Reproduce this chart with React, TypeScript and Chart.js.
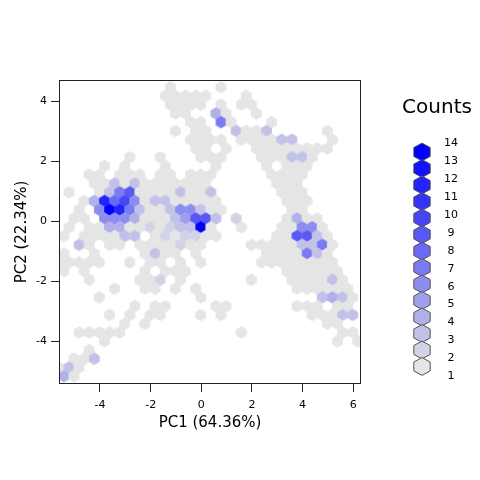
import React, { useEffect, useRef } from "react";
import { Chart, registerables } from "chart.js";
Chart.register(...registerables);

const xAxisTitle = "PC1 (64.36%)";
const yAxisTitle = "PC2 (22.34%)";
const legendTitle = "Counts";
const xTicks = [-4, -2, 0, 2, 4, 6];
const yTicks = [-4, -2, 0, 2, 4];
const xRange = [-5.618, 6.305];
const yRange = [-5.433, 4.7];
const countLevels = [1, 2, 3, 4, 5, 6, 7, 8, 9, 10, 11, 12, 13, 14];

// hexbin grid (data units): cell width, row spacing, centre of first cell
const binWidth = 0.4;
const rowHeight = 0.292;
const gridX0 = -5.624;
const gridY0 = 4.462;

// one string per hex row (top to bottom); '.' empty, 1-9 / a-e = counts 1-14
const hexRows = [
  "..... ..... .1... .1... ..... .....",
  "..... ..... 11111 ...1. ..... .....",
  "..... ..... .1111 .1.11 ..... .....",
  "..... ..... .11.. 41..1 ..... .....",
  "..... ..... ...11 .71.. .1... .....",
  "..... ..... .1.11 ..311 3.... .1...",
  "..... ..... ...11 11.11 1133. ..1..",
  "..... ..... ...11 .1..1 11111 11...",
  "..... ..1.. 1...1 11... 11133 1....",
  "....1 .1... 1.... 1.... 1.111 .....",
  "...11 .111. 11.11 1.... .1111 .....",
  "...11 31311 11111 ..... .111. .....",
  ".1..1 37911 11311 3.... ..111 .....",
  "..14c 8a613 31111 1.... ..111 .....",
  "..1.6 ec731 13663 11... ...11 .....",
  ".11.6 66411 13599 3.2.. ..141 1....",
  ".1.11 44112 1233e 1..1. ..116 61...",
  "1.111 133.1 21221 1.... .1199 31...",
  "..31. 11.11 11211 ....1 11113 371..",
  "1..1. ...13 11.1. ..... 11117 31...",
  "11111 ..1.1 1.1.1 ..... 11111 111..",
  "1.1.. ...1. 111.. ..... ..111 111..",
  "...1. ...11 2.1.. ....1 ...11 1131.",
  "..... 1..11 .1.1. ..... ...11 1111.",
  "....1 ..... ....1 ..... ..... .3431",
  "..... ..1.1 1.... 11... ...11 1.11.",
  "..... 1.1.1 1...1 .1... ..... 11133",
  "..... .1.1. ..... ..... ..... .11..",
  "..111 11... ..... ...1. ..... ...11",
  "....1 ..... ..... ..... ..... ..1.1",
  "...1. ..... ..... ..... ..... .....",
  ".113. ..... ..... ..... ..... .....",
  "131.. ..... ..... ..... ..... .....",
  "41... ..... ..... ..... ..... .....",
];

const lowColor = [229, 229, 229];
const highColor = [0, 0, 255];

const FONT = "'DejaVu Sans', sans-serif";

function colorFor(n: number): string {
  const t = (n - 1) / (countLevels.length - 1);
  const c = lowColor.map((v, i) => Math.round(v + (highColor[i] - v) * t));
  return `rgb(${c[0]},${c[1]},${c[2]})`;
}

type Cell = { x: number; y: number; count: number };

function buildCells(): Cell[] {
  const cells: Cell[] = [];
  hexRows.forEach((row, r) => {
    const s = row.replace(/ /g, "");
    for (let c = 0; c < s.length; c++) {
      const ch = s[c];
      if (ch === ".") continue;
      const n = parseInt(ch, 36);
      cells.push({
        x: gridX0 + c * binWidth + (r % 2 ? binWidth / 2 : 0),
        y: gridY0 - r * rowHeight,
        count: n,
      });
    }
  });
  return cells;
}

const hexCache = new Map<string, HTMLCanvasElement>();
function hexCanvas(color: string, w: number, h: number): HTMLCanvasElement {
  const key = `${color}|${w.toFixed(2)}|${h.toFixed(2)}`;
  const hit = hexCache.get(key);
  if (hit) return hit;
  const cv = document.createElement("canvas");
  const cw = Math.ceil(w) + 2;
  const chh = Math.ceil(h) + 2;
  cv.width = cw;
  cv.height = chh;
  const ctx = cv.getContext("2d")!;
  ctx.translate(cw / 2, chh / 2);
  ctx.beginPath();
  ctx.moveTo(0, -h / 2);
  ctx.lineTo(w / 2, -h / 4);
  ctx.lineTo(w / 2, h / 4);
  ctx.lineTo(0, h / 2);
  ctx.lineTo(-w / 2, h / 4);
  ctx.lineTo(-w / 2, -h / 4);
  ctx.closePath();
  ctx.fillStyle = color;
  ctx.fill();
  hexCache.set(key, cv);
  return cv;
}

function hexPath(ctx: CanvasRenderingContext2D, cx: number, cy: number, hw: number, r: number) {
  ctx.beginPath();
  ctx.moveTo(cx, cy - r);
  ctx.lineTo(cx + hw, cy - r / 2);
  ctx.lineTo(cx + hw, cy + r / 2);
  ctx.lineTo(cx, cy + r);
  ctx.lineTo(cx - hw, cy + r / 2);
  ctx.lineTo(cx - hw, cy - r / 2);
  ctx.closePath();
}

const framePlugin = {
  id: "frame",
  afterDatasetsDraw(chart: any) {
    const { ctx, chartArea: a } = chart;
    ctx.save();
    ctx.strokeStyle = "#222";
    ctx.lineWidth = 1;
    ctx.strokeRect(a.left + 0.5, a.top + 0.5, a.right - a.left - 1, a.bottom - a.top - 1);
    ctx.restore();
  },
};

const countsLegendPlugin = {
  id: "countsLegend",
  afterDraw(chart: any) {
    const { ctx } = chart;
    ctx.save();
    ctx.fillStyle = "#000";
    ctx.font = `20px ${FONT}`;
    ctx.textAlign = "center";
    ctx.textBaseline = "middle";
    ctx.fillText(legendTitle, 437, 108);
    const levels = [...countLevels].reverse();
    levels.forEach((n, i) => {
      hexPath(ctx, 422, 152 + i * 16.5, 8.2, 8.9);
      ctx.fillStyle = colorFor(n);
      ctx.fill();
      ctx.strokeStyle = "#555";
      ctx.lineWidth = 1;
      ctx.stroke();
    });
    ctx.fillStyle = "#000";
    ctx.font = `11px ${FONT}`;
    levels.forEach((n, i) => {
      ctx.fillText(String(n), 451, 143.5 + i * 17.9);
    });
    ctx.restore();
  },
};

export default function App() {
  const ref = useRef<HTMLCanvasElement | null>(null);
  useEffect(() => {
    document.body.style.margin = "0";
    const canvas = ref.current;
    if (!canvas) return;
    const cells = buildCells();
    const chart = new Chart(canvas, {
      type: "scatter",
      data: {
        datasets: [
          {
            data: cells as any,
            pointRadius: 6,
            pointBorderWidth: 0,
            clip: 0,
            pointStyle: ((ctx: any) => {
              const raw = ctx.raw as Cell | undefined;
              if (!raw) return "circle";
              const xs = ctx.chart.scales.x;
              const ys = ctx.chart.scales.y;
              const w = Math.abs(xs.getPixelForValue(binWidth) - xs.getPixelForValue(0)) + 0.6;
              const h = (Math.abs(ys.getPixelForValue(0) - ys.getPixelForValue(rowHeight)) * 4) / 3 + 0.6;
              return hexCanvas(colorFor(raw.count), w, h);
            }) as any,
          } as any,
        ],
      },
      options: {
        responsive: false,
        animation: false,
        events: [],
        layout: { padding: { top: 80, right: 119, left: 0, bottom: 0 } },
        plugins: { legend: { display: false }, tooltip: { enabled: false } },
        scales: {
          x: {
            type: "linear",
            min: xRange[0],
            max: xRange[1],
            afterBuildTicks: (s: any) => {
              s.ticks = xTicks.map((v) => ({ value: v }));
            },
            afterFit: (s: any) => {
              s.height = 96;
            },
            ticks: { font: { family: FONT, size: 11 }, color: "#000", padding: 7, maxRotation: 0, autoSkip: false },
            grid: { drawOnChartArea: false, drawTicks: true, tickLength: 8, color: "#222" },
            border: { display: false },
            title: {
              display: true,
              text: xAxisTitle,
              font: { family: FONT, size: 15 },
              color: "#000",
              padding: { top: 0, bottom: 48 },
            },
          },
          y: {
            type: "linear",
            min: yRange[0],
            max: yRange[1],
            afterBuildTicks: (s: any) => {
              s.ticks = yTicks.map((v) => ({ value: v }));
            },
            afterFit: (s: any) => {
              s.width = 59;
            },
            ticks: { font: { family: FONT, size: 11 }, color: "#000", padding: 4, autoSkip: false },
            grid: { drawOnChartArea: false, drawTicks: true, tickLength: 8, color: "#222" },
            border: { display: false },
            title: {
              display: true,
              text: yAxisTitle,
              font: { family: FONT, size: 15 },
              color: "#000",
              padding: { top: 13, bottom: 0 },
            },
          },
        },
      },
      plugins: [framePlugin, countsLegendPlugin],
    } as any);
    return () => chart.destroy();
  }, []);
  return (
    <div style={{ width: 480, height: 480 }}>
      <canvas ref={ref} width={480} height={480} />
    </div>
  );
}
